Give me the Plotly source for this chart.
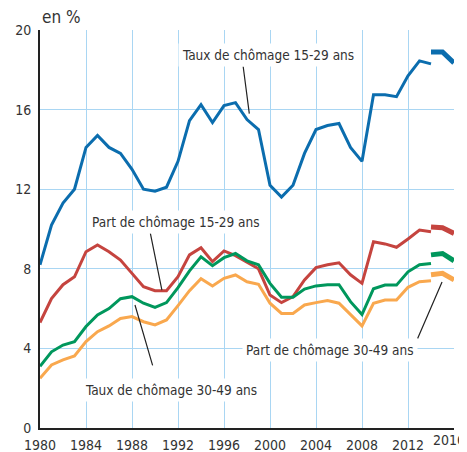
import plotly.graph_objects as go

years_old = list(range(1980, 2015))
years_new = [2014, 2015, 2016]

taux_15_29 = [8.2, 10.2, 11.3, 12.0, 14.1, 14.7, 14.1, 13.8, 13.0, 12.0, 11.9, 12.1,
              13.4, 15.45, 16.25, 15.35, 16.2, 16.35, 15.5, 15.0, 12.2, 11.6, 12.2, 13.8,
              15.0, 15.2, 15.3, 14.1, 13.4, 16.75, 16.75, 16.65, 17.7, 18.45, 18.3]
part_15_29 = [5.3, 6.5, 7.2, 7.6, 8.86, 9.2, 8.86, 8.44, 7.77, 7.1, 6.9, 6.9,
              7.6, 8.7, 9.06, 8.36, 8.9, 8.66, 8.33, 8.0, 6.68, 6.3, 6.6, 7.44,
              8.06, 8.2, 8.3, 7.7, 7.27, 9.36, 9.25, 9.08, 9.5, 9.95, 9.86]
taux_30_49 = [3.1, 3.83, 4.17, 4.34, 5.1, 5.68, 6.0, 6.5, 6.6, 6.27, 6.06, 6.3,
              7.05, 7.9, 8.6, 8.16, 8.56, 8.77, 8.4, 8.2, 7.27, 6.57, 6.57, 6.98,
              7.14, 7.2, 7.2, 6.35, 5.7, 7.0, 7.18, 7.18, 7.85, 8.2, 8.27]
part_30_49 = [2.5, 3.17, 3.42, 3.62, 4.34, 4.84, 5.13, 5.5, 5.6, 5.34, 5.18, 5.43,
              6.15, 6.9, 7.5, 7.14, 7.52, 7.69, 7.35, 7.22, 6.27, 5.76, 5.76, 6.18,
              6.3, 6.4, 6.27, 5.68, 5.13, 6.27, 6.43, 6.43, 7.07, 7.35, 7.4]

taux_15_29_new = [18.9, 18.9, 18.35]
part_15_29_new = [10.1, 10.06, 9.78]
taux_30_49_new = [8.7, 8.77, 8.4]
part_30_49_new = [7.7, 7.77, 7.44]

x_ticks = list(range(1980, 2017, 4))
x_ticktext = [str(v) for v in x_ticks]
last_tick_label = x_ticktext[-1]
x_ticktext[-1] = ""  # drawn as a right-anchored text so it stays inside the window
y_ticks = [0, 4, 8, 12, 16, 20]

BLUE = "#0b6dae"
RED = "#c5443f"
GREEN = "#00975c"
ORANGE = "#f9a84e"
GRID = "#a9d6f3"
FONT = "DejaVu Sans Condensed, Liberation Sans Narrow, sans-serif"

fig = go.Figure()
series = [
    (taux_15_29, taux_15_29_new, BLUE),
    (part_15_29, part_15_29_new, RED),
    (taux_30_49, taux_30_49_new, GREEN),
    (part_30_49, part_30_49_new, ORANGE),
]
for old, new, col in series:
    fig.add_trace(go.Scatter(x=years_old, y=old, mode="lines",
                             line=dict(color=col, width=3), cliponaxis=False,
                             hoverinfo="skip"))
    fig.add_trace(go.Scatter(x=years_new, y=new, mode="lines",
                             line=dict(color=col, width=5), cliponaxis=False,
                             hoverinfo="skip"))

labels = [
    ("Taux de chômage 15-29 ans", 1999.83, 18.74, (1997.65, 18.24, 1998.2, 15.8)),
    ("Part de chômage 15-29 ans", 1991.83, 10.35, (1989.57, 9.85, 1990.6, 6.93)),
    ("Taux de chômage 30-49 ans", 1991.35, 1.91, (1989.83, 3.07, 1988.26, 6.18)),
    ("Part de chômage 30-49 ans", 2005.2, 3.92, (2012.78, 4.42, 2014.96, 7.34)),
]
for text, tx, ty, (sx, sy, ex, ey) in labels:
    fig.add_annotation(x=ex, y=ey, ax=sx, ay=sy, axref="x", ayref="y",
                       xref="x", yref="y", text="", showarrow=True,
                       arrowhead=0, arrowwidth=1.2, arrowcolor="#222222")
    fig.add_annotation(x=tx, y=ty, xref="x", yref="y", text=text, showarrow=False,
                       bgcolor="white", borderpad=3,
                       font=dict(family=FONT, size=13.5, color="#333333"))

fig.add_annotation(xref="paper", yref="paper", x=0, y=1, xanchor="left",
                   yanchor="bottom", yshift=1, text="en %", showarrow=False,
                   font=dict(family=FONT, size=17, color="#333333"))

fig.add_annotation(xref="x", yref="paper", x=x_ticks[-1], y=0, xanchor="right",
                   yanchor="top", xshift=12, yshift=-3, text=last_tick_label,
                   showarrow=False, borderpad=0,
                   font=dict(family=FONT, size=14, color="#333333"))

# The page body adds an 8px offset, so the figure is sized to fit inside the window.
fig.update_layout(
    width=459, height=444,
    margin=dict(l=32, r=13, t=22, b=24),
    paper_bgcolor="white", plot_bgcolor="white",
    showlegend=False,
    font=dict(family=FONT, size=14, color="#333333"),
    xaxis=dict(range=[1980, 2016], tickvals=x_ticks, ticktext=x_ticktext,
               showgrid=True, gridcolor=GRID, gridwidth=1,
               showline=True, linecolor="#222222", linewidth=2,
               zeroline=False, ticks="", ticklen=0, fixedrange=True,
               automargin=False, ticklabeloverflow="allow", ticklabelstandoff=3),
    yaxis=dict(range=[0, 20], tickvals=y_ticks, ticktext=[str(v) for v in y_ticks],
               showgrid=True, gridcolor=GRID, gridwidth=1,
               showline=True, linecolor="#222222", linewidth=2,
               zeroline=False, ticks="", ticklen=0, fixedrange=True,
               automargin=False, ticklabelstandoff=4),
)

fig.write_html("out.html")
